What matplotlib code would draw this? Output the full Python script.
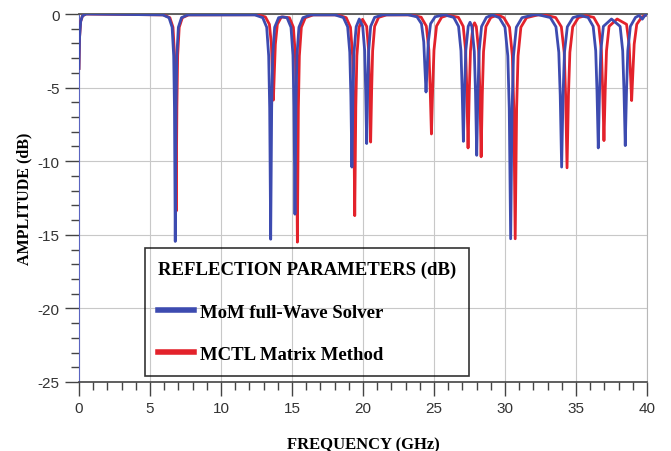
import matplotlib.pyplot as plt
from matplotlib.ticker import MultipleLocator

plt.rcParams['axes.unicode_minus'] = False

# reflection curves (frequency in GHz, amplitude in dB)
freq_mom = [0.0, 0.04, 0.12, 0.25, 0.5,
            5.90, 6.34, 6.56, 6.67, 6.725, 6.78, 6.835, 6.89, 7.00, 7.22, 7.66,
            12.38, 12.94, 13.22, 13.36, 13.43, 13.50, 13.57, 13.64, 13.78, 14.06, 14.35,
            14.65, 14.93, 15.07, 15.14, 15.21, 15.28, 15.35, 15.49, 15.77, 16.33,
            18.02, 18.62, 18.92, 19.07, 19.145, 19.22, 19.295, 19.37, 19.52, 19.74,
            19.98, 20.12, 20.19, 20.26, 20.33, 20.40, 20.54, 20.82, 21.38,
            23.16, 23.80, 24.12, 24.28, 24.36, 24.44, 24.52, 24.60, 24.76, 25.08, 25.72,
            26.39, 26.73, 26.90, 26.985, 27.07, 27.155, 27.24, 27.41, 27.54,
            27.67, 27.84, 27.925, 28.01, 28.095, 28.18, 28.35, 28.69, 29.10,
            29.60, 30.00, 30.20, 30.30, 30.40, 30.50, 30.60, 30.80, 31.20, 32.00,
            32.39, 33.19, 33.59, 33.79, 33.89, 33.99, 34.09, 34.19, 34.39, 34.79, 35.30,
            35.85, 36.21, 36.39, 36.48, 36.57, 36.66, 36.75, 36.93, 37.50,
            38.11, 38.29, 38.38, 38.47, 38.56, 38.65, 38.83, 39.19, 39.45, 39.67, 39.85, 40.0]
amp_mom = [-3.7, -1.6, -0.5, -0.12, 0.0,
           -0.06, -0.25, -0.9, -2.85, -6.4, -15.45, -6.4, -2.85, -0.9, -0.25, -0.06,
           -0.06, -0.25, -0.9, -2.85, -6.4, -15.3, -6.4, -2.85, -0.9, -0.25, -0.2,
           -0.25, -0.9, -2.8, -6.3, -13.6, -6.3, -2.8, -0.9, -0.25, -0.06,
           -0.06, -0.24, -0.87, -2.6, -5.5, -10.4, -5.5, -2.6, -0.87, -0.34,
           -0.84, -2.5, -5.2, -8.8, -5.2, -2.5, -0.84, -0.23, -0.06,
           -0.05, -0.19, -0.66, -1.9, -3.65, -5.3, -3.65, -1.9, -0.66, -0.19, -0.05,
           -0.23, -0.84, -2.5, -5.2, -8.65, -5.2, -2.5, -0.84, -0.56,
           -0.85, -2.55, -5.35, -9.6, -5.35, -2.55, -0.85, -0.23, -0.06,
           -0.25, -0.9, -2.85, -6.4, -15.27, -6.4, -2.85, -0.9, -0.25, -0.06,
           -0.06, -0.24, -0.87, -2.6, -5.5, -10.4, -5.5, -2.6, -0.87, -0.24, -0.11,
           -0.23, -0.84, -2.5, -5.25, -9.1, -5.25, -2.5, -0.84, -0.34,
           -0.84, -2.5, -5.2, -8.94, -5.2, -2.5, -0.84, -0.23, -0.1, -0.35, -0.1, -0.05]

freq_mctl = [0.0, 0.04, 0.12, 0.25, 0.5,
             5.96, 6.40, 6.62, 6.73, 6.785, 6.84, 6.895, 6.95, 7.06, 7.28, 7.72,
             12.57, 13.13, 13.41, 13.55, 13.62, 13.69, 13.76, 13.83, 13.97, 14.25, 14.52,
             14.82, 15.10, 15.24, 15.31, 15.38, 15.45, 15.52, 15.66, 15.94, 16.50,
             18.22, 18.82, 19.12, 19.27, 19.345, 19.42, 19.495, 19.57, 19.72, 19.97,
             20.26, 20.40, 20.47, 20.54, 20.61, 20.68, 20.82, 21.10, 21.66,
             23.38, 24.10, 24.46, 24.64, 24.73, 24.82, 24.91, 25.00, 25.18, 25.54, 26.00,
             26.72, 27.06, 27.23, 27.315, 27.40, 27.485, 27.57, 27.74, 27.86,
             27.98, 28.15, 28.235, 28.32, 28.405, 28.49, 28.66, 29.00, 29.50,
             29.92, 30.32, 30.52, 30.62, 30.72, 30.82, 30.92, 31.12, 31.52, 32.32,
             32.77, 33.57, 33.97, 34.17, 34.27, 34.37, 34.47, 34.57, 34.77, 35.17, 35.70,
             36.25, 36.61, 36.79, 36.88, 36.97, 37.06, 37.15, 37.33, 37.90,
             38.56, 38.74, 38.83, 38.92, 39.01, 39.10, 39.28, 39.64, 40.0]
amp_mctl = [-3.7, -1.6, -0.5, -0.12, 0.0,
            -0.06, -0.25, -0.9, -2.8, -6.3, -13.4, -6.3, -2.8, -0.9, -0.25, -0.06,
            -0.05, -0.2, -0.7, -2.05, -3.9, -5.85, -3.9, -2.05, -0.7, -0.2, -0.22,
            -0.25, -0.9, -2.85, -6.4, -15.5, -6.4, -2.85, -0.9, -0.25, -0.06,
            -0.06, -0.25, -0.9, -2.85, -6.3, -13.7, -6.3, -2.85, -0.9, -0.36,
            -0.84, -2.5, -5.2, -8.7, -5.2, -2.5, -0.84, -0.23, -0.06,
            -0.06, -0.22, -0.82, -2.45, -5.0, -8.15, -5.0, -2.45, -0.82, -0.22, -0.08,
            -0.23, -0.84, -2.5, -5.25, -9.1, -5.25, -2.5, -0.84, -0.6,
            -0.85, -2.55, -5.4, -9.7, -5.4, -2.55, -0.85, -0.24, -0.06,
            -0.25, -0.9, -2.85, -6.4, -15.27, -6.4, -2.85, -0.9, -0.25, -0.06,
            -0.06, -0.24, -0.87, -2.6, -5.5, -10.45, -5.5, -2.6, -0.87, -0.24, -0.11,
            -0.23, -0.84, -2.5, -5.15, -8.6, -5.15, -2.5, -0.84, -0.34,
            -0.7, -2.05, -3.9, -5.88, -3.9, -2.05, -0.7, -0.2, -0.05]

x_ticks = [0, 5, 10, 15, 20, 25, 30, 35, 40]
y_ticks = [0, -5, -10, -15, -20, -25]

serif_bold = {'family': ['Liberation Serif', 'DejaVu Serif'], 'weight': 'bold'}
tick_font = ['Liberation Sans', 'DejaVu Sans']

fig = plt.figure(figsize=(6.71, 4.52), dpi=100)
ax = fig.add_axes([0.1177, 0.1527, 0.8465, 0.8141])

ax.plot(freq_mctl, amp_mctl, color='#e3222b', lw=2.0, label='MCTL Matrix Method', zorder=3)
ax.plot(freq_mom, amp_mom, color='#3d4bb0', lw=2.0, label='MoM full-Wave Solver', zorder=4)

ax.set_xlim(0, 40)
ax.set_ylim(-25, 0)
ax.set_xticks(x_ticks)
ax.set_yticks(y_ticks)
ax.xaxis.set_minor_locator(MultipleLocator(1))
ax.yaxis.set_minor_locator(MultipleLocator(1))
ax.tick_params(which='major', direction='out', length=10, width=1, color='#444444',
               labelsize=11, labelcolor='#333333', pad=4)
ax.tick_params(which='minor', direction='out', length=5.5, width=1, color='#444444')
for lab in ax.get_xticklabels() + ax.get_yticklabels():
    lab.set_family(tick_font)

ax.grid(True, which='major', color='#c8c8c8', lw=0.8)
ax.spines['top'].set_color('#555555')
ax.spines['top'].set_linewidth(1.3)
ax.spines['bottom'].set_color('#444444')
ax.spines['bottom'].set_linewidth(1.2)
ax.spines['left'].set_color('#5a64c0')
ax.spines['right'].set_color('#b8b8b8')

ax.set_xlabel('FREQUENCY (GHz)', fontdict=serif_bold, fontsize=12, labelpad=15)
ax.set_ylabel('AMPLITUDE (dB)', fontdict=serif_bold, fontsize=11.5, labelpad=4)

leg_font = {'family': ['Liberation Serif', 'DejaVu Serif'], 'weight': 'bold', 'size': 13.5}
handles, labels = ax.get_legend_handles_labels()
leg = ax.legend(handles[::-1], labels[::-1], loc='lower left', bbox_to_anchor=(0.116, 0.016),
                title='REFLECTION PARAMETERS (dB)', alignment='left', prop=leg_font,
                frameon=True, fancybox=False, facecolor='none', edgecolor='black',
                handlelength=1.9, handletextpad=0.35, labelspacing=1.35, borderpad=0.7,
                borderaxespad=0)
leg.get_title().set_fontproperties(leg_font)
leg.get_frame().set_linewidth(1.2)
for line in leg.get_lines():
    line.set_linewidth(4)

fig.savefig('out.png', dpi=100)
